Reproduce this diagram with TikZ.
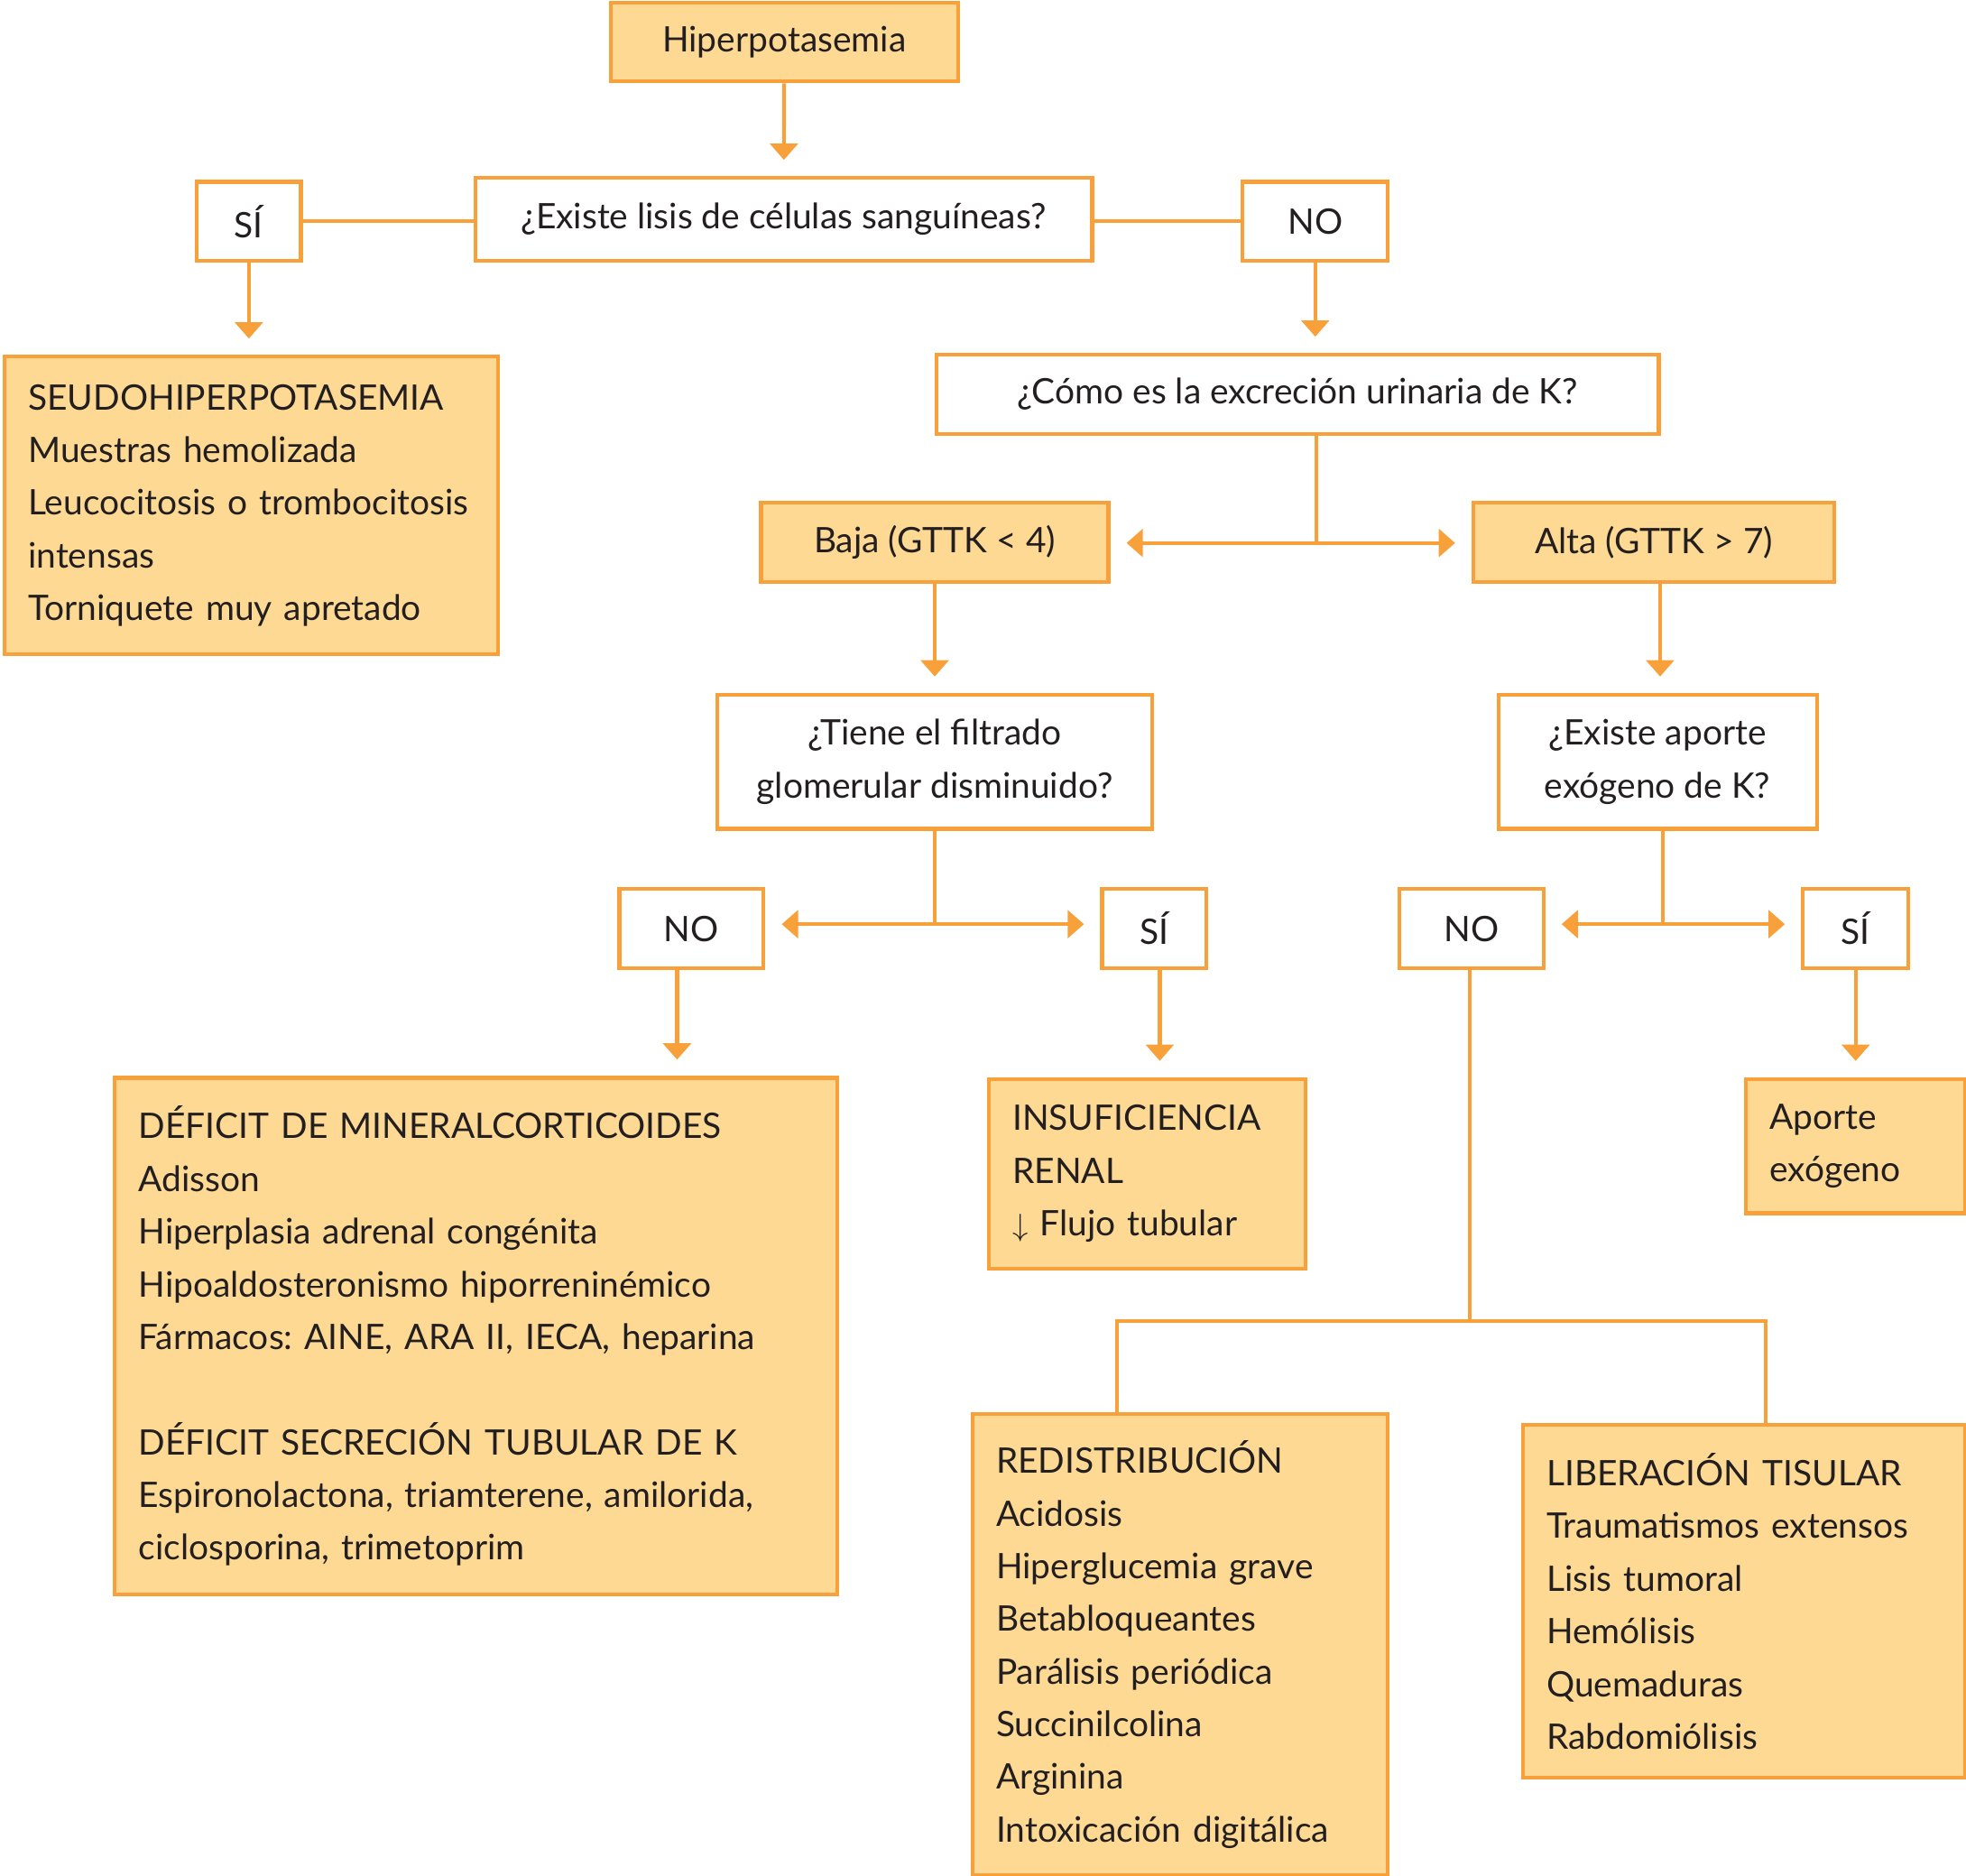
\documentclass[tikz,border=0pt]{standalone}
\usepackage{fontspec}
\setmainfont{Lato}
\frenchspacing
\usetikzlibrary{arrows.meta}

\definecolor{naranja}{RGB}{248,160,58}
\definecolor{crema}{RGB}{253,217,148}
\definecolor{tinta}{RGB}{35,31,32}

\tikzset{
  caja/.style={draw=naranja, line width=3pt, fill=white, inner sep=0pt, text=tinta,
    font=\fontsize{28}{42}\selectfont},
  llena/.style={caja, fill=crema},
  lista/.style={llena, anchor=north west, align=left, inner xsep=19pt},
  linea/.style={draw=naranja, line width=3pt},
  flecha/.style={linea, -{Triangle[width=22pt,length=13pt]}, shorten >=13pt}
}

\begin{document}
\begin{tikzpicture}[x=1pt,y=-1pt]
    \useasboundingbox (0,0) rectangle (1568,1496);
    % primera pregunta
    \node[llena, minimum width=277pt, minimum height=63pt] (hiper) at (625.5,33.5) {Hiperpotasemia};
    \node[caja, minimum width=492pt, minimum height=66pt] (lisis) at (625,175) {¿Existe lisis de células sanguíneas?};
    \node[caja, minimum width=83pt, minimum height=63pt] (si1) at (198.5,176.5) {SÍ};
    \node[caja, minimum width=116pt, minimum height=63pt] (no1) at (1049,176.5) {NO};
    \node[lista, text width=356pt, minimum height=237pt] (seudo) at (2,283)
        {SEUDOHIPERPOTASEMIA\\Muestras hemolizada\\Leucocitosis o trombocitosis\\intensas\\Torniquete muy apretado};
    \node[caja, minimum width=576pt, minimum height=63pt] (excrecion) at (1035,314.5) {¿Cómo es la excreción urinaria de K?};
    % rama de la excrecion
    \node[llena, minimum width=277pt, minimum height=63pt] (baja) at (745.5,432.5) {Baja (GTTK < 4)};
    \node[llena, minimum width=288pt, minimum height=63pt] (alta) at (1319,432.5) {Alta (GTTK > 7)};
    \node[caja, align=center, minimum width=347pt, minimum height=107pt] (filtrado) at (745.5,607.5)
        {¿Tiene el filtrado\\glomerular disminuido?};
    \node[caja, align=center, minimum width=254pt, minimum height=107pt] (aporte) at (1322,607.5)
        {¿Existe aporte\\exógeno de K?};
    \node[caja, minimum width=115pt, minimum height=63pt] (no2) at (551.5,740.5) {NO};
    \node[caja, minimum width=83pt, minimum height=63pt] (si2) at (920.5,740.5) {SÍ};
    \node[caja, minimum width=115pt, minimum height=63pt] (no3) at (1173.5,740.5) {NO};
    \node[caja, minimum width=84pt, minimum height=63pt] (si3) at (1480,740.5) {SÍ};
    % cajas finales
    \node[lista, text width=538pt, minimum height=412pt] (deficit) at (90,858)
        {DÉFICIT DE MINERALCORTICOIDES\\Adisson\\Hiperplasia adrenal congénita\\Hipoaldosteronismo hiporreninémico\\Fármacos: AINE, ARA II, IECA, heparina\\[42pt]DÉFICIT SECRECIÓN TUBULAR DE K\\Espironolactona, triamterene, amilorida,\\ciclosporina, trimetoprim\\[12pt]};
    \node[lista, text width=215pt, minimum height=151pt] (insuf) at (787,859)
        {INSUFICIENCIA\\RENAL\\$\downarrow$ Flujo tubular};
    \node[lista, text width=137pt, minimum height=107pt] (exogeno) at (1391,859)
        {Aporte\\exógeno};
    \node[lista, text width=293pt, minimum height=368pt] (redis) at (774,1126)
        {REDISTRIBUCIÓN\\Acidosis\\Hiperglucemia grave\\Betabloqueantes\\Parálisis periódica\\Succinilcolina\\Arginina\\Intoxicación digitálica};
    \node[lista, text width=315pt, minimum height=281pt] (liber) at (1213,1135)
        {LIBERACIÓN TISULAR\\Traumatismos extensos\\Lisis tumoral\\Hemólisis\\Quemaduras\\Rabdomiólisis};
    % puntos de bifurcacion
    \coordinate (cruce1) at (1050,433);
    \coordinate (cruce2) at (745.5,737);
    \coordinate (cruce3) at (1326,737);
    \coordinate (xalta) at (1324,0);
    \coordinate (xno2) at (540,0);
    \coordinate (xsi2) at (925,0);
    \coordinate (xno3) at (1172,0);
    \coordinate (ramaizq) at (891,1053.5);
    \coordinate (ramader) at (1408,1053.5);
    % conectores
    \draw[flecha] (hiper) -- (lisis);
    \draw[linea] (si1.east) -- (lisis.west |- si1.east);
    \draw[linea] (lisis.east |- no1.west) -- (no1.west);
    \draw[flecha] (si1) -- (seudo.north -| si1);
    \draw[flecha] (no1) -- (excrecion.north -| no1);
    \draw[linea] (excrecion.south -| cruce1) -- (cruce1);
    \draw[flecha] (cruce1) -- (baja.east |- cruce1);
    \draw[flecha] (cruce1) -- (alta.west |- cruce1);
    \draw[flecha] (baja) -- (filtrado);
    \draw[flecha] (alta.south -| xalta) -- (aporte.north -| xalta);
    \draw[linea] (filtrado.south -| cruce2) -- (cruce2);
    \draw[flecha] (cruce2) -- (no2.east |- cruce2);
    \draw[flecha] (cruce2) -- (si2.west |- cruce2);
    \draw[linea] (aporte.south -| cruce3) -- (cruce3);
    \draw[flecha] (cruce3) -- (no3.east |- cruce3);
    \draw[flecha] (cruce3) -- (si3.west |- cruce3);
    \draw[flecha] (no2.south -| xno2) -- (deficit.north -| xno2);
    \draw[flecha] (si2.south -| xsi2) -- (insuf.north -| xsi2);
    \draw[flecha] (si3) -- (exogeno.north -| si3);
    \draw[linea] (no3.south -| xno3) -- (xno3 |- ramaizq);
    \draw[linea] (redis.north -| ramaizq) -- (ramaizq) -- (ramader) -- (liber.north -| ramader);
\end{tikzpicture}
\end{document}
